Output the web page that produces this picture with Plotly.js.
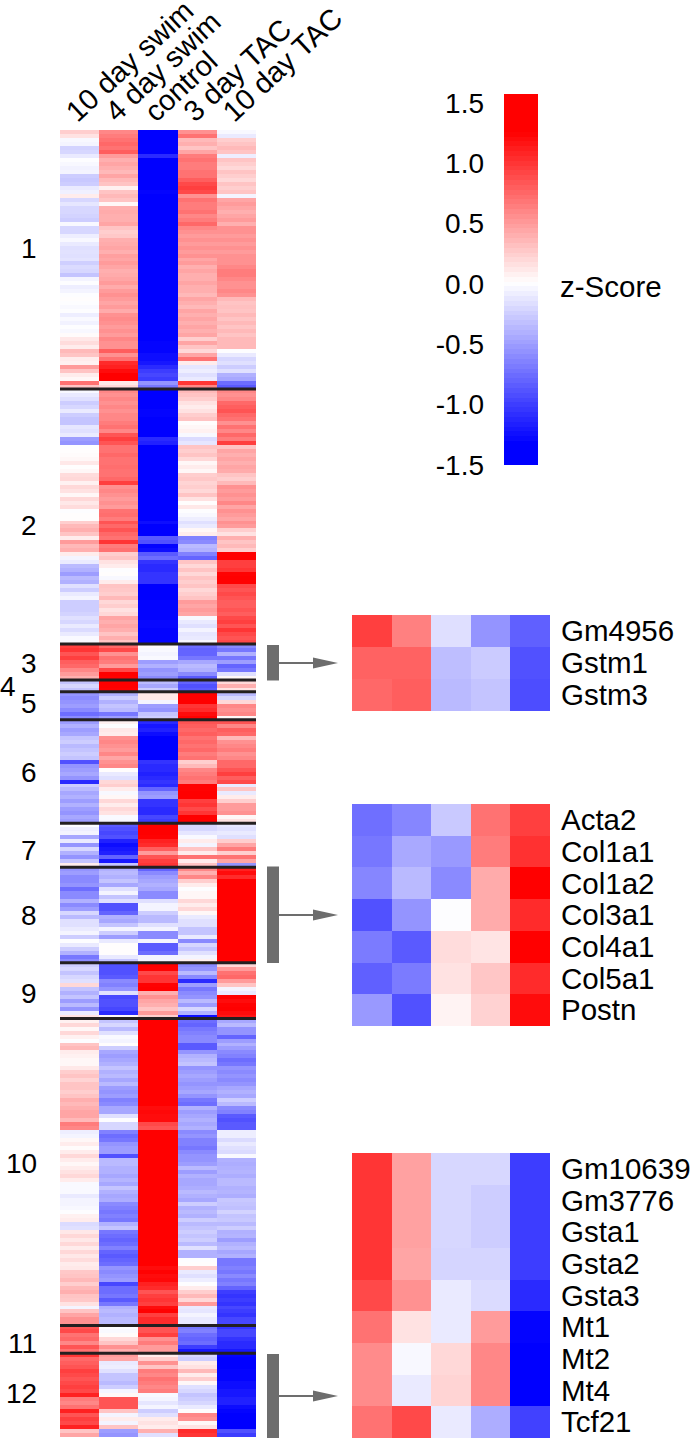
<!DOCTYPE html>
<html><head><meta charset="utf-8">
<script src="https://cdn.plot.ly/plotly-3.0.1.min.js"></script>
<style>html,body{margin:0;padding:0;background:#fff}</style></head>
<body><div id="chart" style="width:690px;height:1438px"></div>
<script>
const conditions=["10 day swim","4 day swim","control","3 day TAC","10 day TAC"];
const clusterNames=["1","2","3","4","5","6","7","8","9","10","11","12"];
const cluster1=[[.25,.6,-1.4,.55,-.03],[.15,.65,-1.4,.7,-.1],[-.03,.7,-1.4,.35,.25],[-.05,.75,-1.35,.4,.3],[-.22,.7,-1.35,.3,.35],[-.2,.8,-1.35,.45,.3],[-.1,.5,-1.1,.65,-.08],[0,.4,-1.4,.7,.3],[-.03,.45,-1.4,.65,.25],[-.06,.4,-1.4,.65,.2],[-.05,.35,-1.4,.7,.3],[-.25,.45,-1.4,.7,.25],[-.28,.35,-1.4,.8,.2],[-.25,.3,-1.4,.9,.3],[-.1,.08,-1.35,.95,.25],[-.07,.3,-1.3,.9,.3],[.1,.35,-1.4,.55,-.05],[-.2,.3,-1.4,.7,.45],[-.12,.05,-1.4,.65,.5],[-.2,.4,-1.4,.65,.45],[-.2,.42,-1.4,.7,.4],[-.22,.4,-1.4,.6,.45],[-.25,.4,-1.4,.65,.5],[-.03,.45,-1.4,.75,.4],[-.2,.3,-1.4,.6,.55],[-.2,.25,-1.4,.55,.55],[-.08,.28,-1.4,.5,.5],[-.03,.4,-1.4,.55,.55],[-.1,.42,-1.4,.5,.5],[-.15,.45,-1.4,.55,.55],[-.14,.4,-1.4,.5,.5],[-.15,.48,-1.4,.55,.55],[-.13,.45,-1.4,.45,.55],[-.24,.5,-1.4,.5,.55],[-.18,.45,-1.4,.4,.6],[-.2,.4,-1.4,.45,.65],[-.3,.42,-1.4,.4,.65],[-.05,.45,-1.4,.4,.6],[0,.5,-1.38,.45,.55],[-.08,.42,-1.38,.4,.55],[-.05,.5,-1.38,.4,.6],[0,.55,-1.38,.35,.55],[.02,.5,-1.38,.45,.35],[0,.45,-1.38,.4,.3],[-.02,.5,-1.38,.35,.32],[0,.42,-1.38,.45,.3],[-.08,.55,-1.38,.4,.35],[-.02,.58,-1.38,.45,.3],[-.06,.55,-1.38,.4,.35],[0,.5,-1.35,.45,.3],[-.03,.55,-1.35,.4,.35],[.03,.5,-1.35,.45,.3],[.12,.6,-1.35,.25,.35],[.18,.55,-1.3,.45,.35],[.1,.55,-1.3,.3,.35],[.35,.8,-1.3,.2,0],[.3,.55,-1.25,.45,-.1],[.1,.7,-1.25,.7,-.2],[.08,1.05,-1.2,.1,-.15],[.5,1.1,-1.1,-.12,-.25],[.3,1.2,-1,-.08,-.15],[.1,1.3,-.95,-.15,-.4],[.05,1.3,-1,-.1,-.45],[.7,.12,-.55,1,-.75],[.3,.2,-.7,.6,-.85]];
const cluster2=[[-.03,.6,-1.4,.35,.6],[-.1,.55,-1.4,.3,.55],[-.15,.6,-1.4,.25,.6],[-.25,.55,-1.38,.15,.75],[-.2,.6,-1.38,.1,.8],[-.1,.55,-1.3,.15,.85],[-.25,.6,-1.3,.25,.75],[-.3,.6,-1.35,.3,.7],[-.3,.65,-1.4,.02,.55],[-.12,.7,-1.4,.05,.7],[-.15,.6,-1.4,.08,.6],[-.1,.85,-1.35,-.03,.75],[-.5,.95,-1.1,-.18,.65],[-.55,.85,-1.15,-.12,.95],[0,.7,-1.4,.3,.3],[.02,.7,-1.4,.25,.45],[.03,.75,-1.4,.3,.4],[.05,.7,-1.4,.2,.45],[.12,.7,-1.4,.05,.4],[.02,.72,-1.4,.1,.45],[.05,.7,-1.4,.05,.42],[.18,.7,-1.4,.25,.3],[.2,.75,-1.4,.28,.25],[.08,.95,-1.4,.22,.35],[.2,.55,-1.4,.25,.55],[.15,.6,-1.4,.2,.5],[.05,.55,-1.4,.3,.55],[.2,.5,-1.4,.15,.5],[.12,.55,-1.4,.02,.6],[.18,.5,-1.4,.12,.45],[0,.7,-1.38,0,.55],[.02,.72,-1.38,-.03,.5],[.02,.65,-1.38,-.08,.45],[.25,.85,-1.25,-.15,.55],[.35,.75,-1.35,-.1,.5],[.4,.85,-1.35,.05,.25],[.3,.75,-1.35,.1,.15],[.1,.7,-.85,-.65,.4],[.5,1,-.9,-.6,.3],[.35,.65,-1.3,-.35,.35],[.4,.7,-1.25,-.4,.25],[.1,.25,-.85,-.65,1.3],[-.05,.3,-.75,-.8,1.3],[-.1,.15,-1.05,.3,.95],[-.35,.1,-1.1,.2,.95],[-.4,0,-1.1,.3,1],[-.5,.02,-1.05,.2,1.25],[-.35,-.03,-1.05,.3,1.3],[-.4,.1,-1.05,.25,1.25],[-.15,.3,-1.38,.3,.9],[-.25,.28,-1.38,.2,.85],[-.1,.25,-1.38,.25,.9],[-.05,.35,-1.35,.3,.85],[-.25,.2,-1.3,.5,.8],[-.25,.25,-1.3,.45,.8],[-.25,.15,-1.3,.5,.85],[-.22,.2,-1.3,.45,.8],[-.15,.45,-1.3,-.03,.9],[-.2,.4,-1.28,-.1,.95],[-.1,.45,-1.28,-.15,.85],[-.18,.4,-1.3,-.05,1],[-.1,.3,-1.3,-.12,.9],[-.02,.4,-1.3,-.1,.85],[-.03,.3,-1.3,-.03,.9]];
const cluster3=[[.95,.75,.03,-.75,-.6],[1,.9,-.02,-.8,-.7],[.85,.55,-.05,-.8,-.4],[.95,.7,-.02,-.7,-.7],[.8,.65,-.5,-.45,-.5],[.75,.5,-.4,-.35,-.8],[.6,.9,-.55,-.4,-.7],[.5,1.3,-.5,-.6,-.15],[.4,1.25,-.6,-.85,.05]];
const cluster4=[[-.3,1.3,-.35,-.8,.2],[-.2,1.3,-.45,-.9,.4],[-.3,1.25,-.25,-.85,.15]];
const cluster5=[[-.55,-.4,.12,1.3,-.35],[-.6,-.25,.12,1.3,-.2],[-.55,-.4,-.05,1.3,.2],[-.5,-.3,-.5,1,.6],[-.6,-.35,-.55,1.05,.55],[-.75,-.7,-.3,1.2,.6],[-.6,-.5,-.25,1.25,.05]];
const cluster6=[[-.5,.08,-1.1,.85,.85],[-.4,0,-1.2,.8,.6],[-.5,.12,-1.15,.75,.8],[-.45,.1,-1.25,.8,.75],[-.3,.55,-1.35,.7,.35],[-.25,.6,-1.4,.75,.55],[-.35,.55,-1.4,.7,.6],[-.3,.5,-1.45,.75,.65],[-.25,.6,-1.42,.65,.55],[-.3,.45,-1.35,.7,.6],[-.9,.55,-1.05,.25,.75],[-.55,.6,-1.1,.35,.75],[-.5,.02,-1.1,.6,.85],[-.45,-.1,-1.15,.65,.95],[-.55,-.15,-1.1,.7,.8],[-1.1,.2,-1.05,.65,.9],[-.25,.25,-1.1,1.25,-.1],[-.35,.1,-.8,1.25,.3],[-.45,-.03,-.55,1.3,-.1],[-.4,.05,-.5,1.3,.1],[-.5,.2,-1.05,.95,.25],[-.4,.1,-1.05,1,.5],[-.5,.2,-1.1,.9,.5],[-.55,.15,-1.1,1,.55],[-.45,-.02,-.95,1.3,.05],[-.5,-.03,-1,1.3,.15]];
const cluster7=[[0,-.85,1.3,-.2,-.12],[-.08,-.9,1.3,-.2,-.15],[-.05,-.95,1.3,-.12,-.1],[-.45,-.9,1.25,-.02,-.15],[-.1,-1.15,1.1,.1,.25],[-.55,-1.25,1.05,-.05,.45],[-.2,-1.2,.8,.3,.65],[-.4,-1.15,.5,.1,.25],[-.55,-.8,.85,.7,.7],[-.3,-1.2,.95,.1,.45],[.1,-.3,1,.3,-.55]];
const cluster8=[[-.55,-.4,-.8,.6,1.1],[-.5,-.35,-.6,.4,1.2],[-.6,-.4,-.5,.6,1.05],[-.6,-.3,-.45,.25,1.3],[-.55,-.45,-.4,.1,1.3],[-.75,-.15,-.45,0,1.3],[-.6,-.05,-.6,.05,1.3],[-.6,-.3,-.6,.05,1.3],[-.4,-.15,-.15,.2,1.3],[-.6,-.9,-.05,.1,1.3],[-.5,-.9,-.05,.2,1.3],[-.2,-.8,-.25,.05,1.3],[-.35,-.4,-.35,-.1,1.3],[-.15,-.45,-.35,-.15,1.3],[-.15,-.3,-.15,-.15,1.3],[-.1,-.05,-.05,-.3,1.3],[-.05,-.25,-.6,-.3,1.3],[-.25,-.5,-.6,-.1,1.3],[0,-.1,-.05,-.6,1.3],[-.1,.02,-.85,-.2,1.3],[-.25,.02,-.85,-.3,1.3],[-.4,.02,-.75,-.15,1.3],[-.7,-.1,-.05,-.05,1.3],[-.6,-.3,-.05,.08,1.3]];
const cluster9=[[-.25,-.9,1.3,-.6,.2],[-.2,-.9,1.25,-.55,.5],[-.3,-.9,.9,-.35,.7],[-.2,-.85,1,-.6,.75],[-.15,-.6,1,-1.1,.5],[.2,-.65,1.25,-.5,.3],[-.3,-.55,1.3,-.7,-.05],[-.4,-.15,.4,-.6,-.1],[-.3,-.95,.55,-.55,1.3],[-.5,-.9,.45,-.35,1.2],[-.35,-.9,.4,-.5,1.25],[-.55,-.95,.3,-.2,1.3],[-.1,-1.1,.5,-.4,1.2],[.15,.05,.25,-1.25,1.15]];
const cluster10=[[.08,-.3,1.3,-.75,-.45],[.2,-.2,1.3,-.8,-.35],[.05,-.35,1.3,-.7,-.55],[.2,-.15,1.3,-.65,-.55],[.08,-.02,1.3,-.6,-.8],[0,-.05,1.3,-.6,-.5],[.3,.02,1.3,-.85,-.4],[.35,-.25,1.3,-.85,-.5],[.1,-.45,1.3,-.55,-.6],[.08,-.5,1.3,-.4,-.65],[.05,-.45,1.3,-.35,-.75],[.05,-.4,1.3,-.3,-.7],[.12,-.3,1.3,-.55,-.55],[.25,-.4,1.3,-.5,-.6],[.3,-.35,1.3,-.45,-.55],[.22,-.45,1.3,-.5,-.6],[.3,-.35,1.3,-.55,-.55],[.3,-.5,1.3,-.5,-.45],[.25,-.55,1.3,-.45,-.4],[.3,-.5,1.3,-.55,-.45],[.4,-.65,1.3,-.7,-.25],[.35,-.6,1.3,-.75,-.35],[.4,-.45,1.2,-.4,-.6],[.45,-.45,1.22,-.5,-.65],[.45,-.15,1.2,-.45,-.85],[.35,0,1.2,-.4,-.9],[.65,-.2,.9,-.45,-.85],[.6,-.2,.85,-.4,-.85],[-.08,-.65,1.3,-.6,-.08],[-.05,-.75,1.3,-.55,-.08],[.05,-.7,1.3,-.65,-.18],[.1,-.55,1.3,-.65,-.1],[.03,-.5,1.3,-.7,-.15],[.1,-.5,1.3,-.6,-.18],[.2,-.9,1.3,-.55,-.02],[.1,-.35,1.3,-.55,-.4],[.05,-.35,1.3,-.5,-.42],[.1,-.4,1.3,-.35,-.4],[.15,-.4,1.3,-.5,-.38],[.2,-.45,1.3,-.4,-.42],[.1,-.38,1.3,-.45,-.35],[-.02,-.45,1.3,-.45,-.35],[-.02,-.3,1.3,-.42,-.4],[-.02,-.4,1.3,-.35,-.38],[-.1,-.45,1.3,-.4,-.42],[-.05,-.42,1.3,-.45,-.28],[-.05,-.6,1.3,-.25,-.3],[-.03,-.65,1.3,-.4,-.32],[0,-.7,1.3,-.35,-.22],[.08,-.65,1.3,-.4,-.3],[.1,-.7,1.3,-.25,-.28],[-.18,-.4,1.3,-.35,-.35],[-.15,-.3,1.3,-.3,-.25],[.12,-.7,1.3,-.25,-.4],[.2,-.75,1.3,-.3,-.38],[.12,-.8,1.3,-.25,-.5],[.2,-.75,1.3,-.35,-.4],[.1,-.65,1.3,-.15,-.35],[.2,-.8,1.3,-.4,-.45],[.12,-.85,1.3,-.4,-.4],[.18,-.8,1.3,0,-.7],[.1,-.75,1.3,.02,-.7],[.12,-.55,1.2,.25,-.65],[.28,-.6,1.25,-.1,-.7],[.3,-.55,1.2,-.15,-.6],[.35,-.5,1.22,-.08,-.7],[.25,-.95,1.1,0,-.65],[.35,-.75,1.05,.1,-.8],[.4,-.75,.85,.25,-1],[.3,-.7,.95,.35,-1.05],[.28,-.85,1,.2,-1],[.15,-.7,.95,.5,-1.05],[-.05,-.4,1.2,-.1,-.95],[.3,-.35,1.25,-.12,-1],[.45,-.4,.95,-.05,-1.05],[.55,-.35,1.05,-.1,-.95],[.55,-.35,1.05,-.1,-.95]];
const cluster11=[[.85,0,.85,-.7,-1.05],[.9,-.02,.85,-.65,-.95],[.7,.03,.95,-.75,-.95],[.75,.2,.55,-.8,-1.05],[.6,.3,.65,-.75,-1.1],[.85,.55,.5,-1,-1.1],[.7,.4,.5,-1.2,-1.2]];
const cluster12=[[1,.5,.1,-.2,-1.3],[.75,.45,.25,-.25,-1.35],[.8,-.1,.55,.1,-1.35],[.85,-.08,.3,.15,-1.4],[.95,-.15,.65,.35,-1.3],[.9,-.3,.6,.1,-1.3],[.85,-.3,.7,.25,-1.3],[.9,-.35,.65,.05,-1.25],[.95,-.25,.6,-.15,-1.25],[.9,-.05,.65,-.2,-1.2],[1.1,.05,-.03,-.3,-1.2],[.65,.85,-.05,-.25,-1.15],[.6,.85,-.12,-.2,-1.15],[.7,.85,-.05,-.1,-1.25],[1.1,.3,-.25,.02,-1.3],[.85,-.05,-.15,.6,-1.35],[.95,.1,.1,.55,-1.4],[.9,-.05,.15,.05,-1.4],[1.1,.3,.1,.15,-1.35],[.3,-.5,.4,1.05,-.9],[.45,-.55,-.15,1,-1]];
const clusters=[cluster1,cluster2,cluster3,cluster4,cluster5,cluster6,cluster7,cluster8,cluster9,cluster10,cluster11,cluster12];

const genesA=["Gm4956","Gstm1","Gstm3"];
const valuesA=[[.95,.63,-.16,-.55,-.82],[.78,.78,-.33,-.26,-.9],[.75,.8,-.35,-.3,-.92]];
const genesB=["Acta2","Col1a1","Col1a2","Col3a1","Col4a1","Col5a1","Postn"];
const valuesB=[[-.74,-.62,-.27,.7,.95],[-.7,-.44,-.52,.65,1.02],[-.62,-.35,-.6,.42,1.3],[-.9,-.55,0,.42,1.05],[-.68,-.85,.18,.14,1.3],[-.82,-.68,.15,.29,1.05],[-.52,-.9,.07,.23,1.2]];
const genesC=["Gm10639","Gm3776","Gsta1","Gsta2","Gsta3","Mt1","Mt2","Mt4","Tcf21"];
const valuesC=[[1,.47,-.2,-.2,-1],[1,.47,-.2,-.25,-1],[1,.47,-.2,-.25,-1],[1,.45,-.21,-.21,-1],[.9,.55,-.1,-.18,-1.1],[.7,.15,-.1,.5,-1.3],[.58,-.03,.2,.6,-1.32],[.58,-.1,.22,.6,-1.32],[.7,.9,-.1,-.42,-.98]];

const scaleLevels=[-1.48,-1.44,-1.4,-1.36,-1.32,-1.28,-1.24,-1.2,-1.16,-1.12,-1.08,-1.04,-1,-.96,-.92,-.88,-.84,-.8,-.76,-.72,-.68,-.64,-.6,-.56,-.52,-.48,-.44,-.4,-.36,-.32,-.28,-.24,-.2,-.16,-.12,-.08,-.04,0,.04,.08,.12,.16,.2,.24,.28,.32,.36,.4,.44,.48,.52,.56,.6,.64,.68,.72,.76,.8,.84,.88,.92,.96,1,1.04,1.08,1.12,1.16,1.2,1.24,1.28,1.32,1.36,1.4,1.44,1.48,1.52,1.56];
const scaleTicks=[1.5,1,.5,0,-.5,-1,-1.5];
const scaleTickText=["1.5","1.0","0.5","0.0","-0.5","-1.0","-1.5"];

const W=690,H=1438,FONT="Liberation Sans, Arial, sans-serif",FS=28;
const px=x=>x/W, py=y=>1-y/H;
const dom=(a,b)=>[a/W,b/W], vdom=(top,bot)=>[1-bot/H,1-top/H];
const colorscale=[[0,"#0000ff"],[.06,"#0000ff"],[.503,"#ffffff"],[.92,"#ff0000"],[1,"#ff0000"]];
const hm={type:"heatmap",colorscale,zmin:-1.5,zmax:1.5,showscale:false,hoverinfo:"skip"};

const allRows=clusters.flat();
const rowIndex=allRows.map((_,i)=>i);
const traces=[
 {...hm,x:conditions,y:rowIndex,z:allRows,xaxis:"x",yaxis:"y"},
 {...hm,x:conditions,y:genesA,z:valuesA,xaxis:"x2",yaxis:"y2"},
 {...hm,x:conditions,y:genesB,z:valuesB,xaxis:"x3",yaxis:"y3"},
 {...hm,x:conditions,y:genesC,z:valuesC,xaxis:"x4",yaxis:"y4"},
 {...hm,x:["z-Score"],y:scaleLevels,z:scaleLevels.map(v=>[v]),xaxis:"x5",yaxis:"y5"}
];
const tf={family:FONT,size:FS,color:"#000"};
const geneFont={...tf,size:29.5};
const hidden={showgrid:false,zeroline:false,showline:false,showticklabels:false,ticks:""};
const geneAxis=(ax,domain,genes)=>({domain,type:"category",anchor:ax,side:"right",autorange:"reversed",tickmode:"array",tickvals:genes,ticktext:genes,tickfont:geneFont,showgrid:false,zeroline:false,showline:false,ticks:"",ticklabelstandoff:10});

// cluster separators come from the row counts
const shapes=[];
let cum=0;
clusters.slice(0,-1).forEach(c=>{cum+=c.length;shapes.push({type:"line",xref:"x",yref:"y",x0:-.5,x1:4.5,y0:cum-.5,y1:cum-.5,line:{color:"#231f20",width:3}});});
// bracket + arrow connectors
const GREY="#6d6d6d";
[[645,680.5,663],[866.5,963,915],[1354,1438,1396]].forEach(([t,b,m])=>{
 shapes.push({type:"rect",xref:"paper",yref:"paper",x0:px(267),x1:px(279),y0:py(b),y1:py(t),fillcolor:GREY,line:{width:0}});
 shapes.push({type:"line",xref:"paper",yref:"paper",x0:px(279),x1:px(315),y0:py(m),y1:py(m),line:{color:GREY,width:2}});
 shapes.push({type:"path",xref:"paper",yref:"paper",path:`M ${px(313)} ${py(m-5.5)} L ${px(338)} ${py(m)} L ${px(313)} ${py(m+5.5)} Z`,fillcolor:GREY,line:{width:0}});
});
const clusterLabelPos=[[38,248],[38,525],[38,663],[17,686],[38,704],[38,772],[38,850],[38,915],[38,993],[38,1163],[38,1343],[38,1393]];
const annotations=clusterNames.map((t,i)=>({text:t,xref:"paper",yref:"paper",x:px(clusterLabelPos[i][0]),y:py(clusterLabelPos[i][1]),xanchor:"right",yanchor:"middle",showarrow:false,font:tf,borderpad:0}));
annotations.push({text:"z-Score",xref:"paper",yref:"paper",x:px(558),y:py(287),xanchor:"left",yanchor:"middle",showarrow:false,font:geneFont});

const layout={width:W,height:H,margin:{l:0,r:0,t:0,b:0},paper_bgcolor:"#fff",plot_bgcolor:"#fff",showlegend:false,
 xaxis:{domain:dom(60,256),anchor:"y",side:"top",type:"category",range:[-.5,4.5],tickangle:-43,tickfont:{...tf,size:29},showgrid:false,zeroline:false,showline:false,ticks:"",automargin:false,ticklabelshift:-12,ticklabelstandoff:-4},
 yaxis:{domain:vdom(130,1437),anchor:"x",range:[allRows.length-.5,-.5],...hidden},
 xaxis2:{domain:dom(352,550),anchor:"y2",type:"category",...hidden},
 yaxis2:geneAxis("x2",vdom(615,711),genesA),
 xaxis3:{domain:dom(352,550),anchor:"y3",type:"category",...hidden},
 yaxis3:geneAxis("x3",vdom(804,1026),genesB),
 xaxis4:{domain:dom(352,550),anchor:"y4",type:"category",...hidden},
 yaxis4:geneAxis("x4",vdom(1153,1438),genesC),
 xaxis5:{domain:dom(504,538),anchor:"y5",type:"category",...hidden},
 yaxis5:{domain:vdom(94,465),anchor:"x5",side:"left",range:[-1.5,1.573],tickmode:"array",tickvals:scaleTicks,ticktext:scaleTickText,tickfont:tf,showgrid:false,zeroline:false,showline:false,ticks:"",ticklabelstandoff:19},
 shapes,annotations};
Plotly.newPlot("chart",traces,layout,{displayModeBar:false,staticPlot:true});
</script></body></html>
